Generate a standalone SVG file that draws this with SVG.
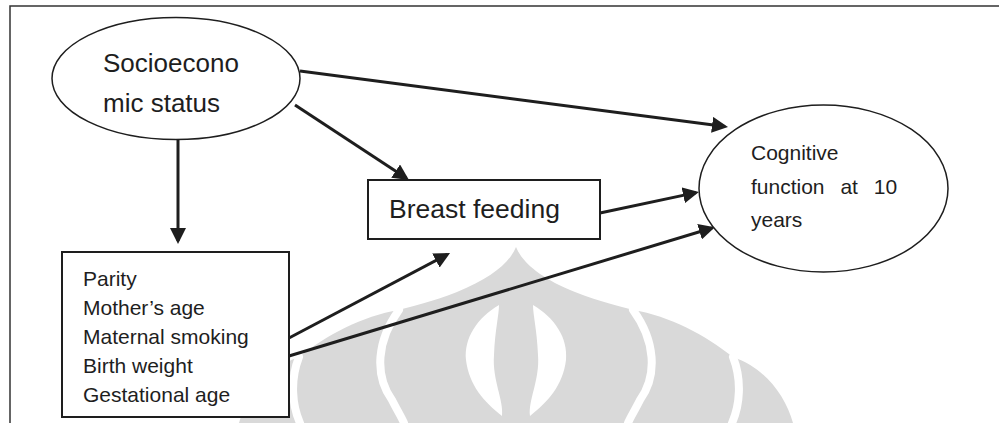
<svg xmlns="http://www.w3.org/2000/svg" width="999" height="423" viewBox="0 0 999 423">
<defs>
<style>
.node{fill:#fff;stroke:#1e1e1e;stroke-width:1.5}
.box{fill:#fff;stroke:#1e1e1e;stroke-width:2}
.t{font-family:"Liberation Sans",Arial,sans-serif;fill:#1e1e1e}
.edge{stroke:#1e1e1e;stroke-width:3;fill:none;marker-end:url(#ah)}
.wm{fill:#d9d9d9}
.gap{fill:none;stroke:#fff;stroke-width:8;stroke-linecap:round}
</style>
<marker id="ah" viewBox="0 0 16 16" markerWidth="16" markerHeight="16" refX="13" refY="8" orient="auto" markerUnits="userSpaceOnUse">
<path d="M0,0 L16,8 L0,16 z" fill="#1e1e1e"/>
</marker>
<g id="wmhalf">
<path class="wm" d="M516,247 C522,262 540,278 575,292 C600,302 620,306 633,310 C670,316 705,335 733,357 C765,368 785,395 793,423 L516,423 Z"/>
<path class="gap" d="M633,310 C655,340 658,375 640,400 C635,410 630,418 628,423"/>
<path class="gap" d="M733,357 C742,380 740,405 732,423"/>
<path d="M533,305 C555,318 568,338 566,360 C563,385 548,402 530,416 C528,400 540,380 538,355 C537,330 533,315 533,305 Z" fill="#fff"/>
</g>
</defs>
<g id="watermark">
<use href="#wmhalf"/>
<use href="#wmhalf" transform="translate(1032,0) scale(-1,1)"/>
</g>
<g id="frame">
<path d="M999,6 L10,6 L10,423" fill="none" stroke="#333" stroke-width="1.5"/>
</g>
<g id="connectors">
<line class="edge" x1="300" y1="71" x2="725" y2="126.5"/>
<line class="edge" x1="295" y1="105" x2="406.5" y2="178.3"/>
<line class="edge" x1="178" y1="139" x2="178" y2="241"/>
<line class="edge" x1="600" y1="213" x2="696" y2="192.6"/>
<line class="edge" x1="289" y1="338" x2="447.4" y2="254.4"/>
<line class="edge" x1="289" y1="356" x2="712" y2="228"/>
</g>
<g id="socioeconomic">
<ellipse class="node" cx="176" cy="78.5" rx="124" ry="61"/>
<text class="t" font-size="26" x="103" y="72">Socioecono</text>
<text class="t" font-size="26" x="103" y="112">mic status</text>
</g>
<g id="breastfeeding">
<rect class="box" x="368" y="180" width="232" height="59"/>
<text class="t" font-size="26.5" x="389" y="218">Breast feeding</text>
</g>
<g id="cognitive">
<ellipse class="node" cx="823.5" cy="188.5" rx="124.5" ry="83.5"/>
<text class="t" font-size="21" x="751" y="160">Cognitive</text>
<text class="t" font-size="21" x="751" y="194" word-spacing="10">function at 10</text>
<text class="t" font-size="21" x="751" y="227">years</text>
</g>
<g id="confounders">
<rect class="box" x="62" y="252" width="227" height="165"/>
<text class="t" font-size="21" x="83" y="286">Parity</text>
<text class="t" font-size="21" x="83" y="315">Mother’s age</text>
<text class="t" font-size="21" x="83" y="344">Maternal smoking</text>
<text class="t" font-size="21" x="83" y="373">Birth weight</text>
<text class="t" font-size="21" x="83" y="402">Gestational age</text>
</g>
</svg>
